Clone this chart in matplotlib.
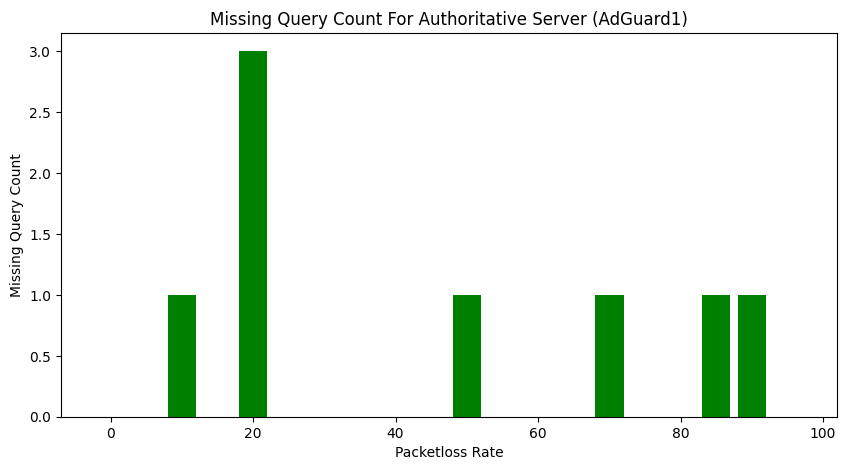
import matplotlib.pyplot as plt

loss_rates = [0, 5, 10, 15, 20, 25, 30, 35, 40, 45, 50, 55, 60, 65, 70, 75, 80, 85, 90, 95]
missing_counts = [0, 0, 1, 0, 3, 0, 0, 0, 0, 0, 1, 0, 0, 0, 1, 0, 0, 1, 1, 0]

fig = plt.figure(figsize=(8.46, 4.70), dpi=100)
ax = fig.add_axes([61 / 846, 1 - 417 / 470, (837 - 61) / 846, (417 - 33) / 470])
ax.bar(loss_rates, missing_counts, width=4, color='green')
ax.set_title('Missing Query Count For Authoritative Server (AdGuard1)')
ax.set_xlabel('Packetloss Rate')
ax.set_ylabel('Missing Query Count')

fig.savefig('out.png', dpi=100)
